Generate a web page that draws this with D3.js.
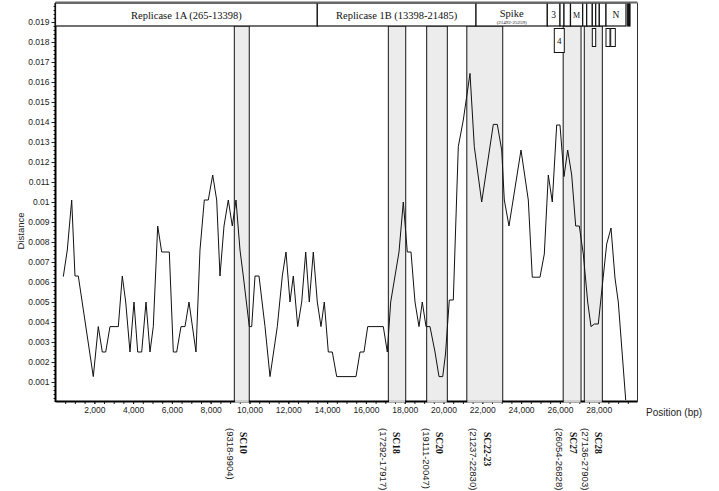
<!DOCTYPE html>
<html><head><meta charset="utf-8">
<script src="https://cdn.jsdelivr.net/npm/d3@7"></script>
<style>body{margin:0;background:#fff}svg{display:block}</style>
</head><body>
<svg id="c" width="719" height="491"></svg>
<script>
// ---------- data ----------
const positions = [402,608,835,1005,1175,1948,2206,2412,2588,2809,
3237,3443,3619,3840,4046,4237,4443,4665,4871,5041,
5268,5474,5866,6072,6247,6469,6675,6881,7242,7448,
7670,7876,8103,8309,8479,8686,8907,9113,9304,9510,
9680,9990,10113,10284,10490,10799,11057,11433,11691,11881,
12088,12258,12485,12691,12897,13082,13289,13495,13686,13856,
14062,14268,14495,15490,15696,15902,16093,16897,17103,17278,
17706,17928,18134,18325,18531,18737,18907,19098,19304,19562,
19768,19959,20103,20299,20505,20763,21021,21366,21588,21969,
22567,22773,23000,23134,23376,23995,24371,24577,24974,25196,
25402,25608,25835,26005,26211,26402,26608,26814,27000,27206,
27433,27603,27773,27979,28412,28634,28840,29010,29392];
const distances = [0.00627,0.0076,0.0101,0.0063,0.0063,0.00127,0.00377,0.0025,0.0025,0.00377,
0.00377,0.0063,0.005,0.0025,0.005,0.0025,0.0025,0.005,0.0025,0.00377,
0.0088,0.0075,0.0075,0.0025,0.0025,0.00377,0.00377,0.005,0.0025,0.0076,
0.0101,0.0101,0.01135,0.0101,0.0063,0.0088,0.0101,0.0088,0.0101,0.0076,
0.0063,0.00377,0.00377,0.0063,0.0063,0.00377,0.00127,0.00377,0.0063,0.0075,
0.005,0.0063,0.00377,0.005,0.0075,0.005,0.0075,0.005,0.00377,0.005,
0.0025,0.0025,0.00127,0.00127,0.0025,0.0025,0.00377,0.00377,0.0025,0.005,
0.0075,0.0100,0.0075,0.0075,0.005,0.00377,0.005,0.00377,0.00377,0.0025,
0.00127,0.00127,0.0024,0.0051,0.0051,0.01277,0.0141,0.01643,0.01277,0.0100,
0.01388,0.01388,0.0126,0.0101,0.0088,0.0126,0.0101,0.00624,0.00624,0.0074,
0.01135,0.0100,0.01385,0.01385,0.01127,0.0126,0.01135,0.0088,0.0088,0.0074,
0.005,0.00377,0.0039,0.0039,0.0079,0.0087,0.0062,0.005,0.0001];

const bandNames  = ["SC10","SC18","SC20","SC22-23","SC27","SC28"];
const bandRanges = ["(9318-9904)","(17292-17917)","(19111-20047)","(21237-22830)","(26054-26828)","(27136-27903)"];
const bandStart  = [9220,17160,19130,21200,26170,27260];
const bandEnd    = [9990,18050,20200,23050,27090,28190];
const bandLabelAt= [9680,17552,19784,22227,26660,27979];

const geneLabels = ["Replicase 1A (265-13398)","Replicase 1B (13398-21485)","Spike","3","","","M","","","","","","N",""];
const geneSub    = ["","","(21492-25259)","","","","","","","","","","",""];
const geneStart  = [0,13495,21675,25351,26005,26211,26546,27175,27381,27670,27845,28031,28376,29495];
const geneEnd    = [13495,21675,25351,26005,26211,26546,27175,27381,27670,27845,28031,28376,29407,29613];
const geneFilled = [0,0,0,0,0,0,0,0,0,0,0,0,0,1];
const orfLabels  = ["4","","",""];
const orfStart   = [25711,27670,28376,28619];
const orfEnd     = [26227,27845,28582,28856];

const xTicks = [2000,4000,6000,8000,10000,12000,14000,16000,18000,20000,22000,24000,26000,28000];
const yTicks = [0.001,0.002,0.003,0.004,0.005,0.006,0.007,0.008,0.009,0.01,0.011,0.012,0.013,0.014,0.015,0.016,0.017,0.018,0.019];

// ---------- drawing ----------
const svg = d3.select("#c");
const x = d3.scaleLinear().domain([0,30000]).range([55.5,637.5]);
const y = d3.scaleLinear().domain([0,0.02]).range([402,2]);
const sans = "'Liberation Sans', Arial, sans-serif";
const serif = "'Liberation Serif', 'Times New Roman', serif";
const boxTop = 3, boxBot = 26;

// bands
const bands = bandNames.map((n,i)=>({n, r:bandRanges[i], s:bandStart[i], e:bandEnd[i], at:bandLabelAt[i]}));
svg.append("g").selectAll("rect").data(bands).join("rect")
  .attr("x", d=>x(d.s)).attr("width", d=>x(d.e)-x(d.s))
  .attr("y", boxBot).attr("height", 401-boxBot)
  .attr("fill","#ececec").attr("stroke","#3a3a3a").attr("stroke-width",1.2);

// line
const pts = positions.map((p,i)=>[p,distances[i]]);
svg.append("path").datum(pts)
  .attr("d", d3.line().x(d=>x(d[0])).y(d=>y(d[1])))
  .attr("fill","none").attr("stroke","#111").attr("stroke-width",1);

// y axis
const gy = svg.append("g").attr("transform","translate(55.5,0)");
gy.call(d3.axisLeft(y).tickValues(d3.range(0.0002,0.0199,0.0002)).tickSize(2).tickFormat(""))
  .call(g=>g.select(".domain").remove());
gy.append("g").call(d3.axisLeft(y).tickValues(yTicks).tickSize(4).tickPadding(2)
    .tickFormat(d=>String(+d.toFixed(3))))
  .call(g=>g.select(".domain").remove())
  .call(g=>g.selectAll("text").attr("font-family",sans).attr("font-size","8.5px").attr("fill","#222"));
gy.selectAll("line").attr("stroke","#222");

// x axis
const gx = svg.append("g").attr("transform","translate(0,401)");
gx.call(d3.axisBottom(x).tickValues(d3.range(500,29600,500)).tickSize(3).tickFormat(""))
  .call(g=>g.select(".domain").remove());
gx.append("g").call(d3.axisBottom(x).tickValues(xTicks).tickSize(3).tickPadding(3)
    .tickFormat(d3.format(",")))
  .call(g=>g.select(".domain").remove())
  .call(g=>g.selectAll("text").attr("font-family",sans).attr("font-size","8.5px").attr("fill","#222"));
gx.selectAll("line").attr("stroke","#222");

// frame lines
svg.append("line").attr("x1",55.5).attr("x2",55.5).attr("y1",boxTop).attr("y2",402)
  .attr("stroke","#000").attr("stroke-width",2);
svg.append("line").attr("x1",55.5).attr("x2",637.5).attr("y1",401.5).attr("y2",401.5)
  .attr("stroke","#000").attr("stroke-width",2);
svg.append("line").attr("x1",637.5).attr("x2",637.5).attr("y1",boxTop).attr("y2",402)
  .attr("stroke","#333").attr("stroke-width",1);
// redraw band bottoms over axis
svg.append("g").selectAll("rect").data(bands).join("rect")
  .attr("x", d=>x(d.s)+0.6).attr("width", d=>x(d.e)-x(d.s)-1.2)
  .attr("y", 400).attr("height", 2.5).attr("fill","#cfcfcf");

// genome boxes
const genes = geneLabels.map((l,i)=>({l, sub:geneSub[i], s:geneStart[i], e:geneEnd[i], f:geneFilled[i]}));
const gg = svg.append("g");
gg.selectAll("rect").data(genes).join("rect")
  .attr("x", d=>x(d.s)).attr("width", d=>x(d.e)-x(d.s))
  .attr("y", boxTop).attr("height", boxBot-boxTop)
  .attr("fill", d=>d.f ? "#111" : "#fff").attr("stroke","#111").attr("stroke-width",1.2);
svg.append("line").attr("x1",55.5).attr("x2",637.5).attr("y1",2.5).attr("y2",2.5)
  .attr("stroke","#666").attr("stroke-width",2);
gg.selectAll("text.gl").data(genes.filter(d=>d.l)).join("text").attr("class","gl")
  .attr("x", d=>(x(d.s)+x(d.e))/2)
  .attr("y", d=>d.sub ? 13 : 15)
  .attr("text-anchor","middle").attr("dominant-baseline","central")
  .attr("font-family",serif)
  .attr("font-size", d=>d.l.length>3 ? "10.5px" : (d.l==="M" ? "8px" : "9.5px"))
  .attr("fill","#111").text(d=>d.l);
gg.selectAll("text.gs").data(genes.filter(d=>d.sub)).join("text").attr("class","gs")
  .attr("x", d=>(x(d.s)+x(d.e))/2).attr("y", 22)
  .attr("text-anchor","middle").attr("dominant-baseline","central")
  .attr("font-family",serif).attr("font-size","5px").attr("fill","#111").text(d=>d.sub);

const orfs = orfLabels.map((l,i)=>({l, s:orfStart[i], e:orfEnd[i]}));
gg.selectAll("rect.orf").data(orfs).join("rect").attr("class","orf")
  .attr("x", d=>x(d.s)).attr("width", d=>x(d.e)-x(d.s))
  .attr("y", 28.5).attr("height", d=>d.l ? 24 : 18)
  .attr("fill","#fff").attr("stroke","#111").attr("stroke-width",1);
gg.selectAll("text.orf").data(orfs.filter(d=>d.l)).join("text").attr("class","orf")
  .attr("x", d=>(x(d.s)+x(d.e))/2).attr("y", 40.5)
  .attr("text-anchor","middle").attr("dominant-baseline","central")
  .attr("font-family",serif).attr("font-size","9px").attr("fill","#111").text(d=>d.l);

// band labels (rotated)
const lab = svg.append("g");
bands.forEach(d=>{
  const cx = x(d.at);
  lab.append("text").attr("transform",`translate(${cx},432) rotate(90)`)
    .attr("dominant-baseline","central").attr("font-family",serif).attr("font-weight","bold")
    .attr("font-size","9.5px").attr("fill","#111").text(d.n);
  lab.append("text").attr("transform",`translate(${cx-13},428) rotate(90)`)
    .attr("dominant-baseline","central").attr("font-family",sans)
    .attr("font-size","9.5px").attr("fill","#222").text(d.r);
});

// axis titles
svg.append("text").attr("transform","translate(20,231) rotate(-90)")
  .attr("text-anchor","middle").attr("dominant-baseline","central")
  .attr("font-family",sans).attr("font-size","9.5px").attr("fill","#222").text("Distance");
svg.append("text").attr("x",646).attr("y",412)
  .attr("dominant-baseline","central")
  .attr("font-family",sans).attr("font-size","10px").attr("fill","#222").text("Position (bp)");
</script>
</body></html>
